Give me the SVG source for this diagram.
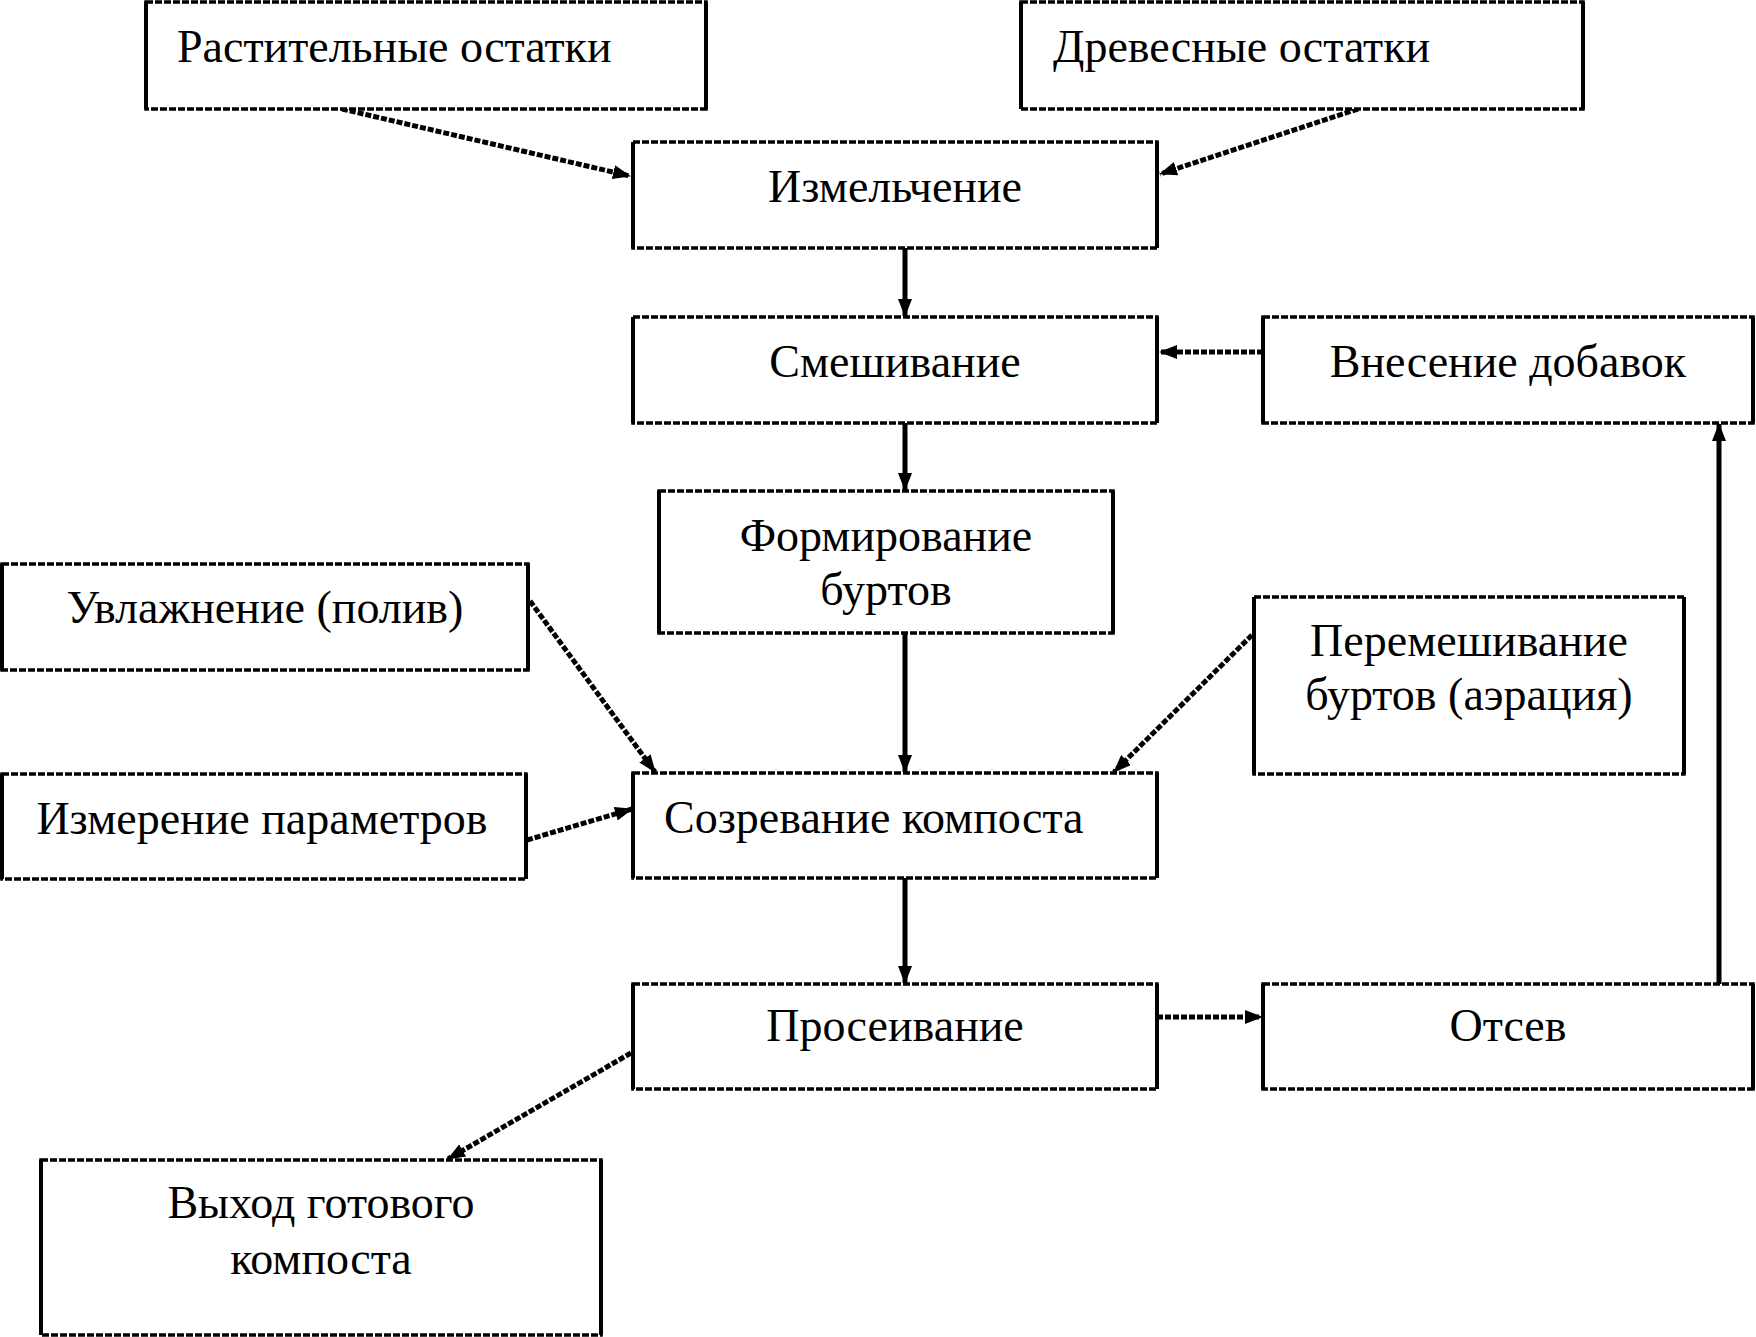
<svg xmlns="http://www.w3.org/2000/svg" width="1756" height="1337" viewBox="0 0 1756 1337">
<style>
.box{fill:#fff;stroke:#000;stroke-width:3.5;stroke-dasharray:7 2}
.side{fill:none;stroke:#000;stroke-width:4}
.t{font-family:"Liberation Serif","Times New Roman",serif;font-size:46px;fill:#000}
.c{text-anchor:middle}
.solid{fill:none;stroke:#000;stroke-width:5}
.dash{fill:none;stroke:#000;stroke-width:5;stroke-dasharray:6 2}
</style>
<defs>
<marker id="ah" viewBox="0 0 18 14" refX="17" refY="7" markerWidth="18" markerHeight="14" markerUnits="userSpaceOnUse" orient="auto">
<path d="M0,0 L18,7 L0,14 Z" fill="#000"/>
</marker>
</defs>
<rect width="1756" height="1337" fill="#fff"/>

<g id="edges">
<path class="dash" d="M342,109 L630,176" marker-end="url(#ah)"/>
<path class="dash" d="M1358,109 L1160,174" marker-end="url(#ah)"/>
<path class="solid" d="M905,248 L905,316" marker-end="url(#ah)"/>
<path class="solid" d="M905,423 L905,490" marker-end="url(#ah)"/>
<path class="dash" d="M1263,352 L1160,352" marker-end="url(#ah)"/>
<path class="solid" d="M905,633 L905,772" marker-end="url(#ah)"/>
<path class="dash" d="M530,601 L655,772" marker-end="url(#ah)"/>
<path class="dash" d="M1252,635 L1114,772" marker-end="url(#ah)"/>
<path class="dash" d="M527,840 L632,809" marker-end="url(#ah)"/>
<path class="solid" d="M905,878 L905,983" marker-end="url(#ah)"/>
<path class="dash" d="M1157,1017 L1262,1017" marker-end="url(#ah)"/>
<path class="solid" d="M1719,984 L1719,424" marker-end="url(#ah)"/>
<path class="dash" d="M631,1053 L448,1159" marker-end="url(#ah)"/>
</g>

<g id="n_rast">
<rect class="box" x="146" y="2" width="560" height="107"/>
<path class="side" d="M146,2 V109 M706,2 V109"/>
<text class="t" x="177" y="62">Растительные остатки</text>
</g>
<g id="n_drev">
<rect class="box" x="1021" y="2" width="562" height="107"/>
<path class="side" d="M1021,2 V109 M1583,2 V109"/>
<text class="t" x="1053" y="62">Древесные остатки</text>
</g>
<g id="n_izm">
<rect class="box" x="633" y="142" width="524" height="106"/>
<path class="side" d="M633,142 V248 M1157,142 V248"/>
<text class="t c" x="895" y="202">Измельчение</text>
</g>
<g id="n_smesh">
<rect class="box" x="633" y="317" width="524" height="106"/>
<path class="side" d="M633,317 V423 M1157,317 V423"/>
<text class="t c" x="895" y="377">Смешивание</text>
</g>
<g id="n_vnes">
<rect class="box" x="1263" y="317" width="490" height="106"/>
<path class="side" d="M1263,317 V423 M1753,317 V423"/>
<text class="t c" x="1508" y="377">Внесение добавок</text>
</g>
<g id="n_form">
<rect class="box" x="659" y="491" width="454" height="142"/>
<path class="side" d="M659,491 V633 M1113,491 V633"/>
<text class="t c" x="886" y="551">Формирование</text>
<text class="t c" x="886" y="605">буртов</text>
</g>
<g id="n_uvl">
<rect class="box" x="2" y="564" width="526" height="106"/>
<path class="side" d="M2,564 V670 M528,564 V670"/>
<text class="t c" x="265" y="623">Увлажнение (полив)</text>
</g>
<g id="n_perem">
<rect class="box" x="1254" y="597" width="430" height="177"/>
<path class="side" d="M1254,597 V774 M1684,597 V774"/>
<text class="t c" x="1469" y="656">Перемешивание</text>
<text class="t c" x="1469" y="710">буртов (аэрация)</text>
</g>
<g id="n_izmer">
<rect class="box" x="2" y="774" width="524" height="105"/>
<path class="side" d="M2,774 V879 M526,774 V879"/>
<text class="t c" x="262" y="834">Измерение параметров</text>
</g>
<g id="n_sozr">
<rect class="box" x="633" y="773" width="524" height="105"/>
<path class="side" d="M633,773 V878 M1157,773 V878"/>
<text class="t" x="664" y="833">Созревание компоста</text>
</g>
<g id="n_pros">
<rect class="box" x="633" y="984" width="524" height="105"/>
<path class="side" d="M633,984 V1089 M1157,984 V1089"/>
<text class="t c" x="895" y="1041">Просеивание</text>
</g>
<g id="n_otsev">
<rect class="box" x="1263" y="984" width="490" height="105"/>
<path class="side" d="M1263,984 V1089 M1753,984 V1089"/>
<text class="t c" x="1508" y="1041">Отсев</text>
</g>
<g id="n_vyhod">
<rect class="box" x="41" y="1160" width="560" height="175"/>
<path class="side" d="M41,1160 V1335 M601,1160 V1335"/>
<text class="t c" x="321" y="1218">Выход готового</text>
<text class="t c" x="321" y="1274">компоста</text>
</g>
</svg>
